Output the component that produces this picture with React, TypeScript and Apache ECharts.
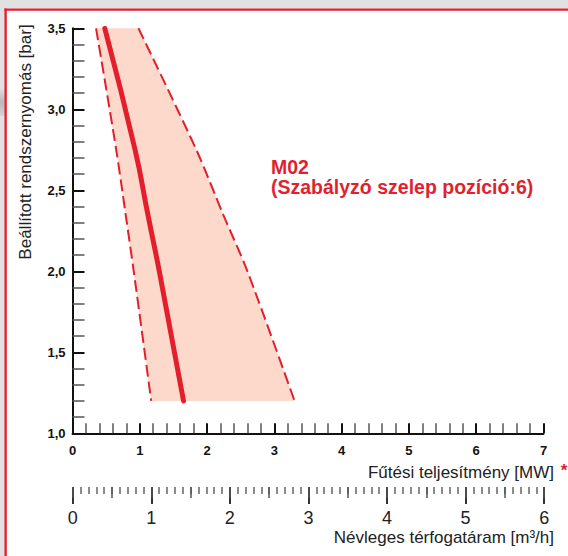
import React, { useEffect, useRef } from "react";
import * as echarts from "echarts";

// Pressure levels (bar) at which the curves were read
const pressureBar = [3.5, 2.75, 2.35, 2.0, 1.2];
// Lower boundary of the operating band (MW)
const minOutputMW = [0.35, 0.65, 0.79, 0.91, 1.17];
// Nominal curve (MW)
const nominalOutputMW = [0.48, 0.93, 1.12, 1.29, 1.65];
// Upper boundary of the operating band (MW)
const maxOutputMW = [0.98, 1.84, 2.24, 2.6, 3.3];

const yAxisTitle = "Beállított rendszernyomás [bar]";
const xAxisTitle = "Fűtési teljesítmény [MW]";
const flowAxisTitle = "Névleges térfogatáram [m³/h]";
const annotationLines = ["M02", "(Szabályzó szelep pozíció:6)"];

const RED = "#e31f2e";
const FILL = "#fcd9cb";
const FONT = "'Liberation Sans', Arial, sans-serif";

export default function App() {
  const ref = useRef<HTMLDivElement>(null);
  useEffect(() => {
    const chart = echarts.init(ref.current!, null, { renderer: "svg" });
    const pair = (xs: number[]) => xs.map((x, i) => [x, pressureBar[i]]);
    chart.setOption({
      animation: false,
      backgroundColor: "#ffffff",
      grid: [
        { left: 72.5, top: 28.3, right: 24.5, height: 405 },
        { left: 72.7, top: 487, right: 23.8, height: 30 },
        { left: 72.7, top: 487, right: 23.8, height: 30 },
      ],
      xAxis: [
        {
          gridIndex: 0,
          type: "value",
          position: "bottom",
          min: 0,
          max: 7,
          interval: 1,
          axisLine: { show: true, onZero: false, lineStyle: { color: "#111", width: 2 } },
          axisTick: { show: true, inside: true, length: 10, lineStyle: { color: "#111", width: 2 } },
          minorTick: { show: true, splitNumber: 5, length: 10, lineStyle: { color: "#555", width: 1.5 } },
          splitLine: { show: false },
          axisLabel: { fontSize: 13, fontWeight: "bold", color: "#111", margin: 11, fontFamily: FONT },
        },
        {
          gridIndex: 1,
          type: "value",
          position: "top",
          min: 0,
          max: 6,
          interval: 1,
          axisLine: { show: false, onZero: false },
          axisTick: { show: true, inside: true, length: 17, lineStyle: { color: "#333", width: 2 } },
          minorTick: { show: true, splitNumber: 10, length: 7, lineStyle: { color: "#666", width: 1.5 } },
          splitLine: { show: false },
          axisLabel: { inside: true, fontSize: 18, color: "#222", margin: 22, fontFamily: FONT },
        },
        {
          gridIndex: 2,
          type: "value",
          position: "top",
          min: 0,
          max: 6,
          interval: 0.5,
          axisLine: { show: false, onZero: false },
          axisTick: { show: true, inside: true, length: 11, lineStyle: { color: "#555", width: 1.5 } },
          splitLine: { show: false },
          axisLabel: { show: false },
        },
      ],
      yAxis: [
        {
          gridIndex: 0,
          type: "value",
          min: 1,
          max: 3.5,
          interval: 0.5,
          axisLine: { show: true, onZero: false, lineStyle: { color: "#111", width: 2 } },
          axisTick: { show: true, inside: true, length: 12, lineStyle: { color: "#111", width: 2 } },
          minorTick: { show: true, splitNumber: 5, length: 12, lineStyle: { color: "#555", width: 1.5 } },
          splitLine: { show: false },
          axisLabel: {
            fontSize: 13,
            fontWeight: "bold",
            color: "#111",
            margin: 7,
            fontFamily: FONT,
            formatter: (v: number) => v.toFixed(1).replace(".", ","),
          },
        },
        { gridIndex: 1, show: false, min: 0, max: 1 },
        { gridIndex: 2, show: false, min: 0, max: 1 },
      ],
      series: [
        {
          type: "custom",
          xAxisIndex: 0,
          yAxisIndex: 0,
          silent: true,
          z: 1,
          data: [[0, 1]],
          renderItem: (_params: any, api: any) => {
            const pts: number[][] = [];
            minOutputMW.forEach((x, i) => pts.push(api.coord([x, pressureBar[i]])));
            for (let i = maxOutputMW.length - 1; i >= 0; i--) {
              pts.push(api.coord([maxOutputMW[i], pressureBar[i]]));
            }
            return { type: "polygon", shape: { points: pts }, style: { fill: FILL } };
          },
        },
        {
          type: "line",
          xAxisIndex: 0,
          yAxisIndex: 0,
          data: pair(minOutputMW),
          showSymbol: false,
          silent: true,
          smooth: 0.3,
          z: 3,
          lineStyle: { color: RED, width: 2, type: [12, 5] },
        },
        {
          type: "line",
          xAxisIndex: 0,
          yAxisIndex: 0,
          data: pair(maxOutputMW),
          showSymbol: false,
          silent: true,
          smooth: 0.3,
          z: 3,
          lineStyle: { color: RED, width: 2, type: [12, 5] },
        },
        {
          type: "line",
          xAxisIndex: 0,
          yAxisIndex: 0,
          data: pair(nominalOutputMW),
          showSymbol: false,
          silent: true,
          smooth: 0.5,
          z: 4,
          lineStyle: { color: RED, width: 5, cap: "round" },
        },
      ],
      graphic: [
        { type: "rect", shape: { x: 0, y: 0, width: 568, height: 8.5 }, style: { fill: "#e1e1e1" }, silent: true },
        { type: "rect", shape: { x: 0, y: 0, width: 4.5, height: 556 }, style: { fill: "#e1e1e1" }, silent: true },
        {
          type: "rect",
          shape: { x: 0, y: 88, width: 4.5, height: 28 },
          style: {
            fill: new echarts.graphic.LinearGradient(0, 0, 0, 1, [
              { offset: 0, color: "#e1e1e1" },
              { offset: 0.5, color: "#b9b9b9" },
              { offset: 1, color: "#d4d4d4" },
            ]),
          },
          silent: true,
        },
        { type: "line", shape: { x1: 4.5, y1: 9.6, x2: 568, y2: 9.6 }, style: { stroke: RED, lineWidth: 2.4 }, silent: true },
        { type: "line", shape: { x1: 5.6, y1: 8.5, x2: 5.6, y2: 556 }, style: { stroke: RED, lineWidth: 2.4 }, silent: true },
        {
          type: "text",
          x: 25,
          y: 142,
          rotation: Math.PI / 2,
          style: { text: yAxisTitle, fontSize: 17, fontFamily: FONT, fill: "#222", align: "center", verticalAlign: "middle" },
        },
        {
          type: "text",
          x: 554,
          y: 472,
          style: { text: xAxisTitle, fontSize: 17, fontFamily: FONT, fill: "#222", align: "right", verticalAlign: "middle" },
        },
        {
          type: "text",
          x: 564,
          y: 470,
          style: { text: "*", fontSize: 17, fontFamily: FONT, fontWeight: "bold", fill: RED, align: "center", verticalAlign: "middle" },
        },
        {
          type: "text",
          x: 554,
          y: 537,
          style: { text: flowAxisTitle, fontSize: 17, fontFamily: FONT, fill: "#222", align: "right", verticalAlign: "middle" },
        },
        {
          type: "text",
          x: 271,
          y: 157,
          style: {
            text: annotationLines.join("\n"),
            fontSize: 19.5,
            lineHeight: 20,
            fontWeight: "bold",
            fontFamily: FONT,
            fill: RED,
            align: "left",
            verticalAlign: "top",
          },
        },
      ],
    });
    return () => chart.dispose();
  }, []);
  return <div ref={ref} style={{ position: "fixed", left: 0, top: 0, width: 568, height: 556 }} />;
}
